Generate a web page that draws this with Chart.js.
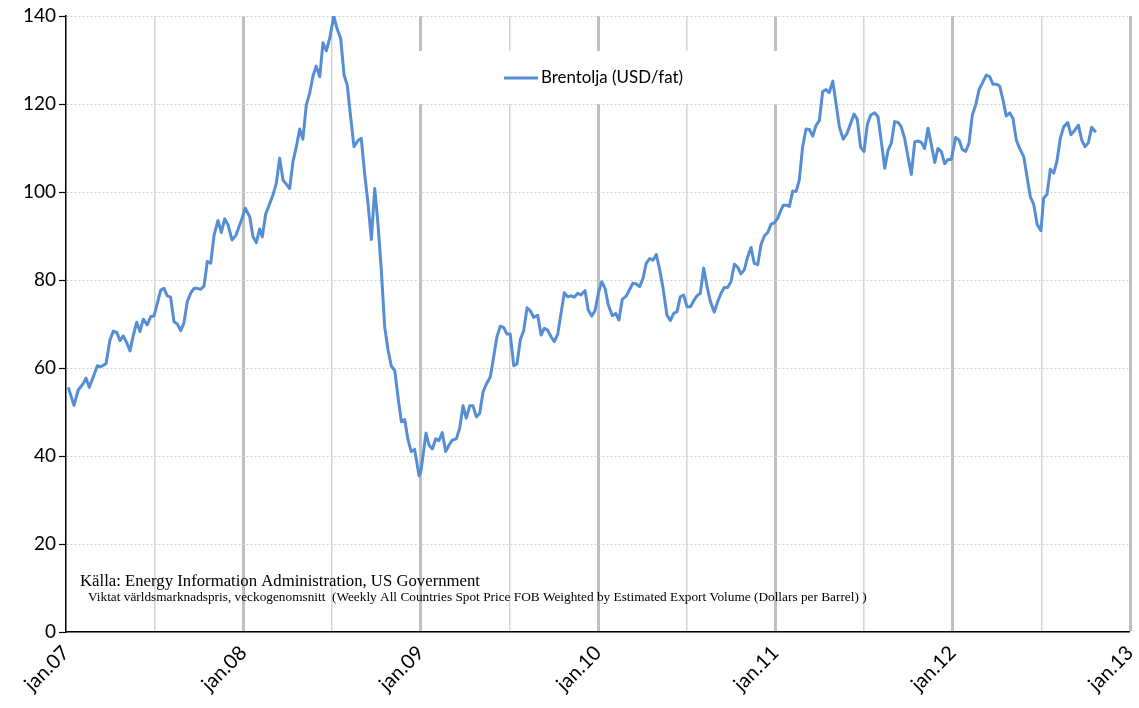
<!DOCTYPE html>
<html>
<head>
<meta charset="utf-8">
<script src="https://cdn.jsdelivr.net/npm/chart.js@4.4.1/dist/chart.umd.min.js"></script>
<style>
  html, body { margin: 0; padding: 0; background: #fff; }
  #wrap { width: 1139px; height: 708px; }
</style>
</head>
<body>
<div id="wrap"><canvas id="brentChart" width="1139" height="708"></canvas></div>
<script>
// Brent weekly spot price.
// x = years since jan.07, y = USD per barrel
const brent2007 = [[0.013,55.6],[0.045,51.5],[0.069,55],[0.098,56.5],[0.113,57.7],[0.131,55.6],[0.154,58],[0.177,60.5],[0.196,60.3],[0.226,61],[0.248,66.4],[0.267,68.4],[0.286,68.1],[0.305,66.2],[0.323,67.3],[0.342,65.8],[0.361,63.9],[0.380,67.5],[0.399,70.4],[0.417,68.3],[0.436,71.1],[0.458,69.8],[0.478,71.7],[0.496,71.8],[0.515,74.7],[0.534,77.7],[0.553,78.1],[0.571,76.4],[0.590,76.1],[0.609,70.5],[0.628,70],[0.647,68.5],[0.665,70.2],[0.684,75.1],[0.703,77],[0.722,78.1],[0.740,78.1],[0.760,77.9],[0.778,78.6],[0.797,84.2],[0.816,83.8],[0.835,90.2],[0.857,93.5],[0.876,90.8],[0.895,93.9],[0.914,92.5],[0.936,89.1],[0.959,90.2],[0.989,93.6]];
const brent2008 = [[1.011,96.3],[1.036,94.4],[1.055,89.8],[1.073,88.5],[1.092,91.6],[1.107,89.8],[1.126,95],[1.149,97.4],[1.167,99.3],[1.186,102],[1.205,107.7],[1.224,102.7],[1.242,101.8],[1.261,100.8],[1.280,106.9],[1.299,110.3],[1.318,114.3],[1.336,112],[1.355,119.8],[1.374,122.4],[1.393,126.4],[1.411,128.6],[1.431,126.2],[1.449,133.9],[1.468,132.1],[1.487,134.9],[1.510,140],[1.528,137.2],[1.549,134.9],[1.568,126.6],[1.586,124.3],[1.605,117.1],[1.624,110.3],[1.647,111.7],[1.665,112.2],[1.684,104.2],[1.703,97.4],[1.722,89.2],[1.741,100.8],[1.759,92.9],[1.778,82.3],[1.797,69.4],[1.816,64.1],[1.834,60.5],[1.854,59.4],[1.872,53.5],[1.891,47.8],[1.910,48.3],[1.929,43.6],[1.947,41],[1.966,41.5],[1.991,35.5]];
const brent2009 = [[2.002,36.7],[2.015,40.6],[2.030,45.2],[2.047,42.5],[2.066,41.6],[2.085,43.9],[2.103,43.5],[2.122,45.3],[2.141,41],[2.160,42.5],[2.178,43.6],[2.201,43.9],[2.220,46.3],[2.239,51.4],[2.257,48.6],[2.277,51.4],[2.295,51.4],[2.314,48.9],[2.333,49.7],[2.352,54.6],[2.370,56.3],[2.393,58],[2.412,62.6],[2.430,67.1],[2.449,69.5],[2.468,69.2],[2.487,67.7],[2.505,67.7],[2.525,60.5],[2.543,60.9],[2.562,66.4],[2.581,68.5],[2.600,73.7],[2.618,73],[2.637,71.5],[2.660,72],[2.679,67.5],[2.697,69],[2.716,68.6],[2.735,67.1],[2.754,66],[2.773,67.7],[2.791,72.3],[2.810,77.1],[2.829,76.2],[2.848,76.4],[2.866,76.1],[2.886,77],[2.904,76.6],[2.927,77.6],[2.945,73.2],[2.965,71.8],[2.983,73]];
const brent2010 = [[3.002,77],[3.021,79.6],[3.040,78.1],[3.058,74.3],[3.081,71.9],[3.100,72.4],[3.118,70.9],[3.137,75.6],[3.160,76.4],[3.179,77.9],[3.197,79.3],[3.216,79.1],[3.235,78.5],[3.254,80.4],[3.272,83.8],[3.292,84.9],[3.310,84.5],[3.329,85.8],[3.348,82.3],[3.367,78.1],[3.389,72],[3.408,70.8],[3.427,72.4],[3.446,72.8],[3.464,76.2],[3.483,76.6],[3.502,73.9],[3.521,73.9],[3.540,75.3],[3.558,76.4],[3.577,77],[3.596,82.7],[3.615,78.5],[3.633,75.2],[3.656,72.7],[3.675,75.1],[3.694,77],[3.712,78.3],[3.731,78.3],[3.750,79.6],[3.769,83.6],[3.788,82.9],[3.806,81.4],[3.825,82.3],[3.844,85.3],[3.863,87.4],[3.881,83.8],[3.901,83.5],[3.919,88],[3.938,90],[3.957,90.8],[3.976,92.7],[3.994,93]];
const brent2011 = [[4.013,94],[4.032,95.9],[4.045,97],[4.064,97],[4.079,96.7],[4.098,100.2],[4.117,100.1],[4.135,102.7],[4.154,110.3],[4.173,114.3],[4.192,114.2],[4.211,112.7],[4.229,115.1],[4.248,116.2],[4.267,122.8],[4.286,123.3],[4.304,122.6],[4.324,125.2],[4.342,120.2],[4.361,114.8],[4.383,112],[4.403,113.2],[4.421,115.2],[4.444,117.7],[4.462,116.5],[4.481,110.2],[4.500,109.2],[4.519,115.4],[4.538,117.5],[4.560,118],[4.579,117.1],[4.598,111.4],[4.617,105.4],[4.635,109.4],[4.654,111.1],[4.673,116],[4.692,115.8],[4.710,114.8],[4.729,112.2],[4.748,108],[4.767,104],[4.786,111.4],[4.804,111.6],[4.823,111.3],[4.842,109.9],[4.861,114.5],[4.880,110.7],[4.899,106.7],[4.917,109.9],[4.936,109.2],[4.955,106.4],[4.974,107.4],[4.992,107.4]];
const brent2012 = [[5.017,112.4],[5.036,111.8],[5.054,109.7],[5.073,109.2],[5.092,111.1],[5.111,117.5],[5.130,119.8],[5.149,123.3],[5.167,124.7],[5.190,126.6],[5.209,126.2],[5.227,124.5],[5.246,124.5],[5.265,124.1],[5.284,120.9],[5.302,117.3],[5.322,118],[5.340,116.7],[5.359,111.8],[5.378,109.9],[5.401,108],[5.419,103.5],[5.438,98.9],[5.457,97.2],[5.476,92.7],[5.498,91.2],[5.513,98.6],[5.532,99.5],[5.551,105.2],[5.570,104.3],[5.588,107],[5.607,112.2],[5.626,114.8],[5.649,115.8],[5.667,113],[5.686,113.9],[5.709,115.2],[5.728,111.8],[5.746,110.3],[5.765,111.2],[5.784,114.7],[5.807,113.6]];

const yearLabels = ['jan.07', 'jan.08', 'jan.09', 'jan.10', 'jan.11', 'jan.12', 'jan.13'];
const seriesName = 'Brentolja (USD/fat)';
const sourceLine = 'Källa: Energy Information Administration, US Government';
const noteLine = 'Viktat världsmarknadspris, veckogenomsnitt  (Weekly All Countries Spot Price FOB Weighted by Estimated Export Volume (Dollars per Barrel) )';

const LINE_BLUE = '#558ed5';
const FONT_FAMILY = 'Lato, "Open Sans", sans-serif';

const points = [].concat(brent2007, brent2008, brent2009, brent2010, brent2011, brent2012)
  .map(([x, y]) => ({ x, y }));

// white legend box sitting inside the plot, over the grid
const legendBox = {
  id: 'legendBox',
  beforeDatasetsDraw(chart) {
    const { ctx } = chart;
    ctx.save();
    ctx.fillStyle = '#fff';
    ctx.fillRect(399, 51, 384, 53);
    ctx.strokeStyle = LINE_BLUE;
    ctx.lineWidth = 3;
    ctx.beginPath();
    ctx.moveTo(504, 78);
    ctx.lineTo(538, 78);
    ctx.stroke();
    ctx.fillStyle = '#000';
    ctx.font = '17px ' + FONT_FAMILY;
    ctx.textBaseline = 'middle';
    ctx.fillText(seriesName, 541, 78, 142);
    ctx.restore();
  }
};

// source notes bottom-left
const sourceNote = {
  id: 'sourceNote',
  afterDraw(chart) {
    const { ctx } = chart;
    ctx.save();
    ctx.fillStyle = '#000';
    ctx.textBaseline = 'alphabetic';
    ctx.font = '16.8px "Liberation Serif", "DejaVu Serif", serif';
    ctx.fillText(sourceLine, 80, 586, 400);
    ctx.font = '13.3px "Liberation Serif", "DejaVu Serif", serif';
    ctx.fillText(noteLine, 88, 601, 782);
    ctx.restore();
  }
};

new Chart(document.getElementById('brentChart'), {
  type: 'line',
  data: {
    datasets: [{
      label: seriesName,
      data: points,
      borderColor: LINE_BLUE,
      borderWidth: 3,
      pointRadius: 0,
      tension: 0,
      borderJoinStyle: 'round',
      fill: false
    }]
  },
  options: {
    responsive: false,
    animation: false,
    devicePixelRatio: 1,
    layout: { padding: { top: 16, right: 9, left: 0, bottom: 0 } },
    plugins: { legend: { display: false }, tooltip: { enabled: false } },
    scales: {
      x: {
        type: 'linear',
        min: 0,
        max: 6,
        afterFit: s => { s.height = 76; s.paddingLeft = 0; s.paddingRight = 0; },
        afterBuildTicks: s => {
          const t = [];
          for (let v = 0; v <= 12; v++) t.push({ value: v / 2 });
          s.ticks = t;
        },
        ticks: {
          autoSkip: false,
          maxRotation: 45,
          minRotation: 45,
          padding: 9,
          color: '#000',
          font: { family: FONT_FAMILY, size: 20 },
          callback: v => (Number.isInteger(v) ? yearLabels[v] : '')
        },
        grid: {
          drawTicks: false,
          color: c => (c.tick && Number.isInteger(c.tick.value) ? '#bfbfbf' : '#d4d4d4'),
          lineWidth: c => {
            if (!c.tick || c.tick.value === 0) return 0;
            return Number.isInteger(c.tick.value) ? 3 : 1.5;
          }
        },
        border: { color: '#000', width: 1.5 }
      },
      y: {
        min: 0,
        max: 140,
        afterFit: s => { s.width = 66; },
        ticks: { stepSize: 20, padding: 3, color: '#000', font: { family: FONT_FAMILY, size: 19 } },
        grid: { color: '#d0d0d0', lineWidth: 1, tickColor: '#000', tickLength: 7, tickWidth: 1.2 },
        border: { color: '#000', width: 1.5, dash: [2, 2] }
      }
    }
  },
  plugins: [legendBox, sourceNote]
});
</script>
</body>
</html>
